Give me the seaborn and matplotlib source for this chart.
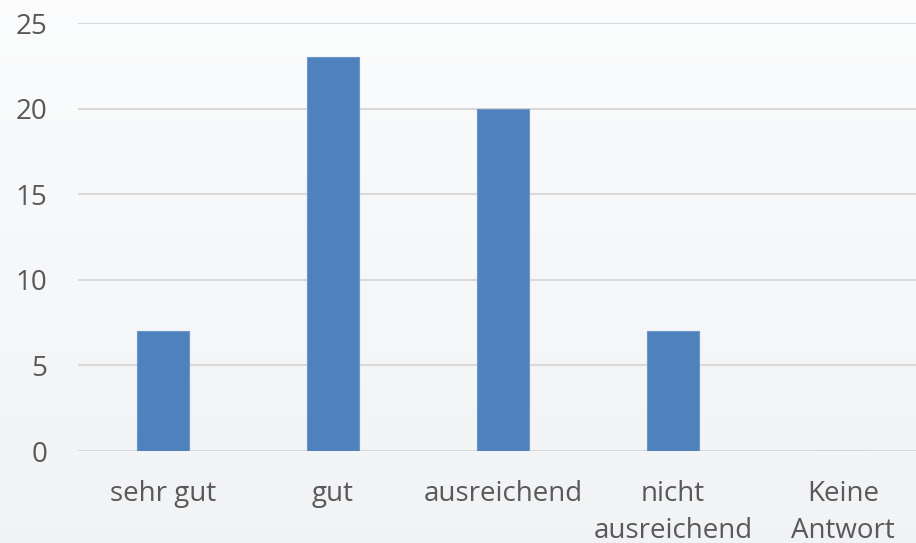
import matplotlib
matplotlib.use('Agg')
import matplotlib.pyplot as plt
import numpy as np
import pandas as pd
import seaborn as sns

categories = ['sehr gut', 'gut', 'ausreichend', 'nicht\nausreichend', 'Keine\nAntwort']
counts = [7, 23, 20, 7, 0]
y_ticks = [0, 5, 10, 15, 20, 25]

df = pd.DataFrame({'category': categories, 'count': counts})

sns.set_style('white')
plt.rcParams['font.family'] = ['Open Sans', 'DejaVu Sans']

text_color = '#595959'
grid_color = '#d9d9d9'
bar_color = '#4f81bd'

fig = plt.figure(figsize=(9.16, 5.43), dpi=100)

# soft vertical gradient background
bg = fig.add_axes([0, 0, 1, 1], zorder=-10)
grad = np.linspace(0, 1, 256).reshape(-1, 1)
top = np.array([0.985, 0.988, 0.99])
bottom = np.array([0.945, 0.952, 0.962])
img = top + (bottom - top) * grad[:, :, None]
bg.imshow(img, aspect='auto', extent=[0, 1, 0, 1])
bg.axis('off')

ax = fig.add_axes([78 / 916, 1 - 451 / 543, 850 / 916, 428 / 543])
ax.patch.set_alpha(0)

sns.barplot(data=df, x='category', y='count', color=bar_color, width=0.31,
            saturation=1, edgecolor='#6f96c9', linewidth=0.8, ax=ax, zorder=3)

ax.set_ylim(0, 25)
ax.set_yticks(y_ticks)
ax.yaxis.grid(True, color=grid_color, linewidth=1.5, zorder=0)
ax.set_axisbelow(True)
for s in ax.spines.values():
    s.set_visible(False)
ax.tick_params(axis='both', length=0, labelsize=20, colors=text_color)
ax.tick_params(axis='y', pad=22)
ax.tick_params(axis='x', pad=21)
for lbl in ax.get_xticklabels():
    lbl.set_linespacing(1.4)
ax.set_xlabel('')
ax.set_ylabel('')

fig.savefig('out.png', dpi=100)
